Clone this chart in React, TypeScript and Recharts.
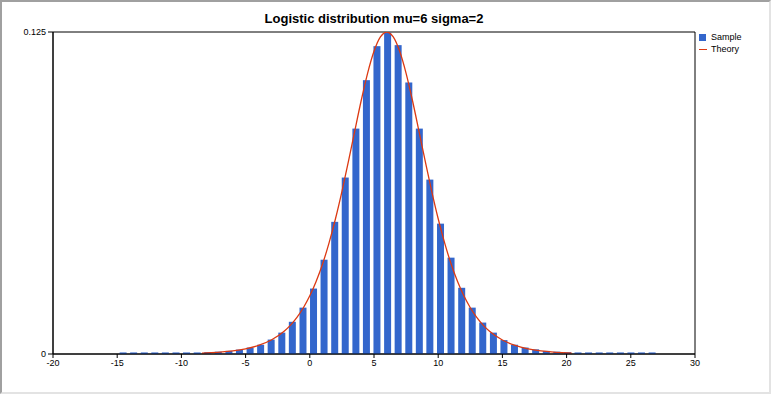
import React from 'react';
import {
  ComposedChart, Bar, Line, XAxis, YAxis, ReferenceArea,
} from 'recharts';

const TITLE = 'Logistic distribution mu=6 sigma=2';

// histogram bin centres
const binCenters = [
  -14.54, -13.72, -12.89, -12.07, -11.25, -10.42, -9.6, -8.77, -7.95, -7.13,
  -6.3, -5.48, -4.65, -3.83, -3.01, -2.18, -1.36, -0.53, 0.29, 1.11,
  1.94, 2.76, 3.59, 4.41, 5.23, 6.06, 6.88, 7.71, 8.53, 9.35,
  10.18, 11.0, 11.83, 12.65, 13.47, 14.3, 15.12, 15.94, 16.77, 17.59,
  18.42, 19.24, 20.07, 20.89, 21.71, 22.54, 23.36, 24.19, 25.01, 25.83,
  26.66,
];

const sampleValues = [
  0.0006, 0.0006, 0.0006, 0.0006, 0.0006, 0.0006, 0.0006, 0.0006, 0.0007, 0.0009,
  0.0012, 0.0017, 0.0025, 0.0036, 0.0056, 0.0083, 0.0125, 0.018, 0.0254, 0.0366,
  0.0513, 0.0685, 0.0875, 0.1063, 0.1195, 0.1248, 0.1199, 0.1054, 0.0875, 0.0677,
  0.0506, 0.0374, 0.0257, 0.018, 0.0122, 0.0083, 0.0054, 0.0036, 0.0025, 0.0018,
  0.0012, 0.0009, 0.0007, 0.0006, 0.0006, 0.0006, 0.0006, 0.0006, 0.0006, 0.0006,
  0.0006,
];

// theory curve
const theoryX = [
  -8.4, -8, -7, -6, -5, -4, -3, -2, -1.5, -1, -0.5, 0, 0.5, 1, 1.5, 2, 2.5, 3, 3.5,
  4, 4.5, 5, 5.5, 6, 6.5, 7, 7.5, 8, 8.5, 9, 9.5, 10, 10.5, 11, 11.5, 12, 12.5,
  13, 13.5, 14, 15, 16, 17, 18, 19, 20, 20.4,
];
const theoryY = [
  0.00037, 0.00046, 0.00075, 0.00123, 0.00203, 0.00332, 0.00543, 0.00883, 0.01123, 0.01423,
  0.01797, 0.02259, 0.02824, 0.03505, 0.04313, 0.0525, 0.06307, 0.07457, 0.08655, 0.09831,
  0.10895, 0.1175, 0.12307, 0.125, 0.12307, 0.1175, 0.10895, 0.09831, 0.08655, 0.07457,
  0.06307, 0.0525, 0.04313, 0.03505, 0.02824, 0.02259, 0.01797, 0.01423, 0.01123, 0.00883,
  0.00543, 0.00332, 0.00203, 0.00123, 0.00075, 0.00046, 0.00037,
];

const xTicks = [-20, -15, -10, -5, 0, 5, 10, 15, 20, 25, 30];
const yTicks = [0, 0.125];

const BLUE = '#3366cc';
const RED = '#dc3912';
const FONT = '"Liberation Sans", Arial, sans-serif';
const BAR_W = 7;

const sampleData = binCenters.map((x, i) => ({ x, sample: sampleValues[i] }));
const theoryData = theoryX.map((x, i) => ({ x, theory: theoryY[i] }));

// numeric x axis gives a hairline band, so widen each bar around its centre
const HistBar = (props: any) => {
  const { x, y, width, height } = props;
  if (height == null || height <= 0) return null;
  const cx = x + width / 2;
  return <rect x={cx - BAR_W / 2} y={y} width={BAR_W} height={height} fill={BLUE} />;
};

export default function App() {
  return (
    <div style={{ position: 'absolute', left: 0, top: 0, width: 773, height: 396, background: '#fff', fontFamily: FONT }}>
      {/* window frame */}
      <div style={{
        position: 'absolute', left: 0, top: 0, width: 767, height: 390,
        borderTop: '2px solid #a0a0a0', borderLeft: '2px solid #a0a0a0',
        borderRight: '2px solid #e3e3e3', borderBottom: '2px solid #e3e3e3',
      }} />

      <div style={{
        position: 'absolute', left: 53, width: 642, top: 11, textAlign: 'center',
        fontSize: 13, fontWeight: 'bold', color: '#000',
      }}>
        {TITLE}
      </div>

      <div style={{ position: 'absolute', left: 0, top: 0 }}>
        <ComposedChart
          width={773}
          height={396}
          data={sampleData}
          margin={{ top: 32, right: 78, bottom: 12, left: 8 }}
        >
          <XAxis
            dataKey="x"
            type="number"
            domain={[-20, 30]}
            ticks={xTicks}
            allowDataOverflow
            interval={0}
            height={30}
            axisLine={{ stroke: '#000' }}
            tickLine={{ stroke: '#000' }}
            tickSize={4}
            tick={{ fontSize: 9, fill: '#000', fontFamily: FONT }}
          />
          <YAxis
            type="number"
            domain={[0, 0.125]}
            ticks={yTicks}
            allowDataOverflow
            width={45}
            axisLine={{ stroke: '#000' }}
            tickLine={{ stroke: '#000' }}
            tickSize={5}
            tick={{ fontSize: 9, fill: '#000', fontFamily: FONT }}
          />
          <ReferenceArea x1={-20} x2={30} y1={0} y2={0.125} fill="none" stroke="#000" strokeWidth={1} />
          <Bar dataKey="sample" fill={BLUE} shape={HistBar} isAnimationActive={false} />
          <Line
            data={theoryData}
            dataKey="theory"
            type="monotone"
            stroke={RED}
            strokeWidth={1.3}
            dot={false}
            isAnimationActive={false}
          />
        </ComposedChart>
      </div>

      {/* legend */}
      <div style={{ position: 'absolute', left: 699, top: 31, fontSize: 9, color: '#000', lineHeight: '12px' }}>
        <div style={{ display: 'flex', alignItems: 'center' }}>
          <span style={{ display: 'inline-block', width: 7, height: 7, background: BLUE, marginRight: 5 }} />
          Sample
        </div>
        <div style={{ display: 'flex', alignItems: 'center' }}>
          <span style={{ display: 'inline-block', width: 8, height: 0, borderTop: `1px solid ${RED}`, marginRight: 4 }} />
          Theory
        </div>
      </div>
    </div>
  );
}
